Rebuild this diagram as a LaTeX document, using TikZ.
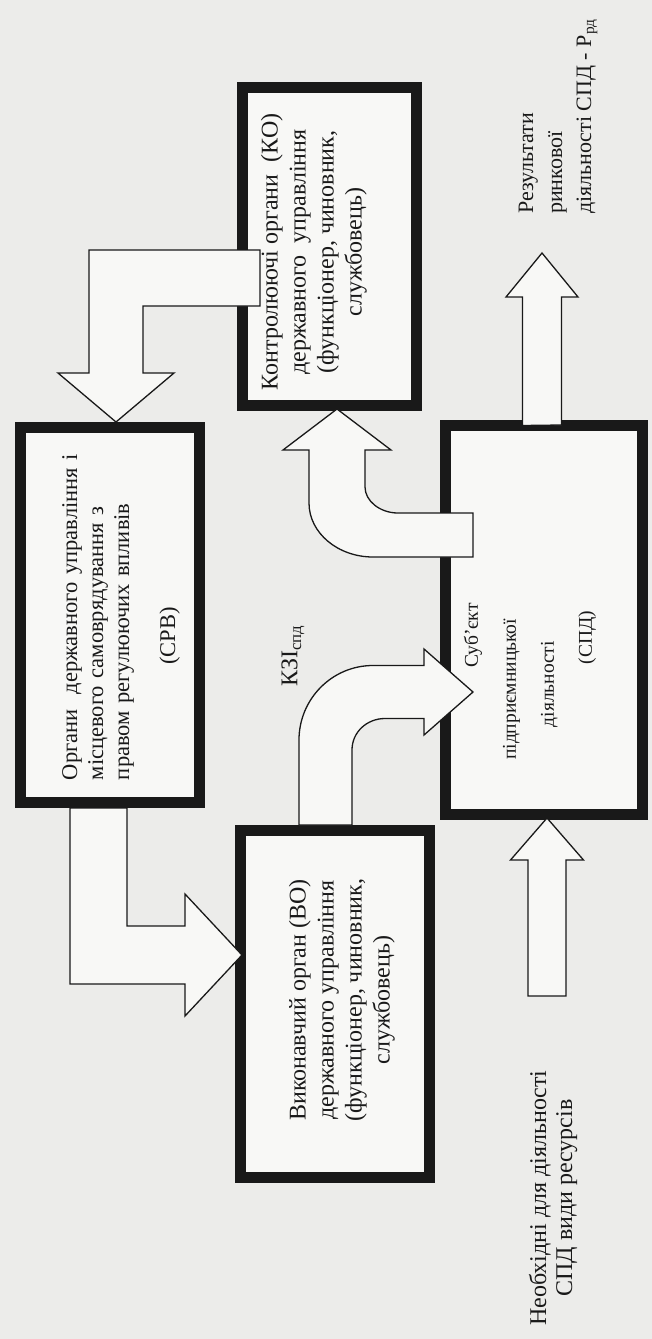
\documentclass[tikz,border=0pt]{standalone}
\usepackage{fontspec}
\setmainfont{Liberation Serif}
\usetikzlibrary{calc}
\definecolor{bg}{RGB}{236,236,234}
\definecolor{paper}{RGB}{248,248,246}
\definecolor{ink}{RGB}{25,25,25}
\tikzset{
  box/.style={draw=ink, line width=11pt, fill=paper, rectangle, inner sep=0pt, outer sep=0pt},
  barrow/.style={draw=ink, line width=1.3pt, fill=paper, line join=miter},
  txt/.style={rotate=90, inner sep=0pt, text=ink, font=\fontsize{24}{28}\selectfont},
}
\begin{document}
\begin{tikzpicture}[x=1pt,y=-1pt]
\fill[bg] (0,0) rectangle (652,1339);
\useasboundingbox (0,0) rectangle (652,1339);
% boxes
\node[box, minimum width=174pt, minimum height=318pt] (ko) at (329.5,246.5) {};
\node[box, minimum width=179pt, minimum height=375pt] (srv) at (110,615) {};
\node[box, minimum width=197pt, minimum height=389pt] (spd) at (544,620) {};
\node[box, minimum width=189pt, minimum height=347pt] (vo) at (335,1004) {};
% KO -> SRV
\draw[barrow] ($(ko.west)+(17.5,3.5)$) -- (89,250) -- (89,373) -- (58,373) -- ($(srv.north)+(6,-5.5)$) -- (174,373) -- (143,373) -- (143,306) -- (260,306) -- cycle;
% SRV -> VO
\draw[barrow] ($(srv.south)+(-40,5.5)$) -- (70,984) -- (185,984) -- (185,1016) -- ($(vo.west)+(1.5,-49)$) -- (185,894) -- (185,926) -- (127,926) -- (127,808) -- cycle;
% SPD -> KO
\draw[barrow] ($(spd.west)+(27.5,-63)$) -- (373,557) .. controls (338,557) and (309,533) .. (309,503) -- (309,450) -- (283,450) -- ($(ko.south)+(7.5,3.5)$) -- (391,450) -- (365,450) -- (365,487) .. controls (365,501) and (380,513) .. (398,513) -- (473,513) -- cycle;
% VO -> SPD
\draw[barrow] ($(vo.north)+(-36,-5.5)$) -- (299,740) .. controls (299,699) and (332,665.5) .. (373,665.5) -- (424,665.5) -- (424,649) -- ($(spd.west)+(27.5,72)$) -- (424,735) -- (424,718.5) -- (385,718.5) .. controls (367,718.5) and (352,732) .. (352,750) -- (352,825) -- cycle;
% SPD -> results
\coordinate (restip) at (542,253);
\draw[barrow] ($(spd.north)+(-21.5,0)$) -- (522.5,297) -- (506,297) -- (restip) -- (578,297) -- (561.5,297) -- (561.5,425) -- cycle;
% resources -> SPD
\draw[barrow] (528,996) -- (528,860) -- (510.5,860) -- ($(spd.south)+(3,3.5)$) -- (583.5,860) -- (566,860) -- (566,996) -- cycle;
% texts
\node[txt, align=center] (kot) at (314,252) {Контролюючі органи\ \ (КО)\\державного\ \ управління\\(функціонер, чиновник,\\службовець)};
\node[txt, align=left, text width=340pt, font=\fontsize{22.5}{26}\selectfont] (srvt) at (121,610) {Органи\ \ державного управління і\\місцевого самоврядування з\\правом регулюючих впливів\\[20pt]\makebox[\hsize][c]{(СРВ)\hspace*{52pt}}};
\node[txt, align=left, anchor=west, font=\fontsize{19.5}{38}\selectfont] (spdt) at (530,760) {\hspace*{92pt}Суб’єкт\\підприємницької\\\hspace*{32.5pt}діяльності\\\hspace*{95.5pt}(СПД)};
\node[txt, align=center] (vot) at (342,1000) {Виконавчий орган (ВО)\\державного управління\\(функціонер, чиновник,\\службовець)};
\node[txt] (ksi) at (293,656) {КЗІ\textsubscript{спд}};
\node[txt, align=left, anchor=west, font=\fontsize{22}{29}\selectfont] (res) at (558,214) {Результати\\ринкової\\діяльності СПД - Р\textsubscript{рд}};
\node[txt, align=center, font=\fontsize{24}{26}\selectfont] (need) at (553,1198) {Необхідні для діяльності\\СПД види ресурсів};
\end{tikzpicture}
\end{document}
